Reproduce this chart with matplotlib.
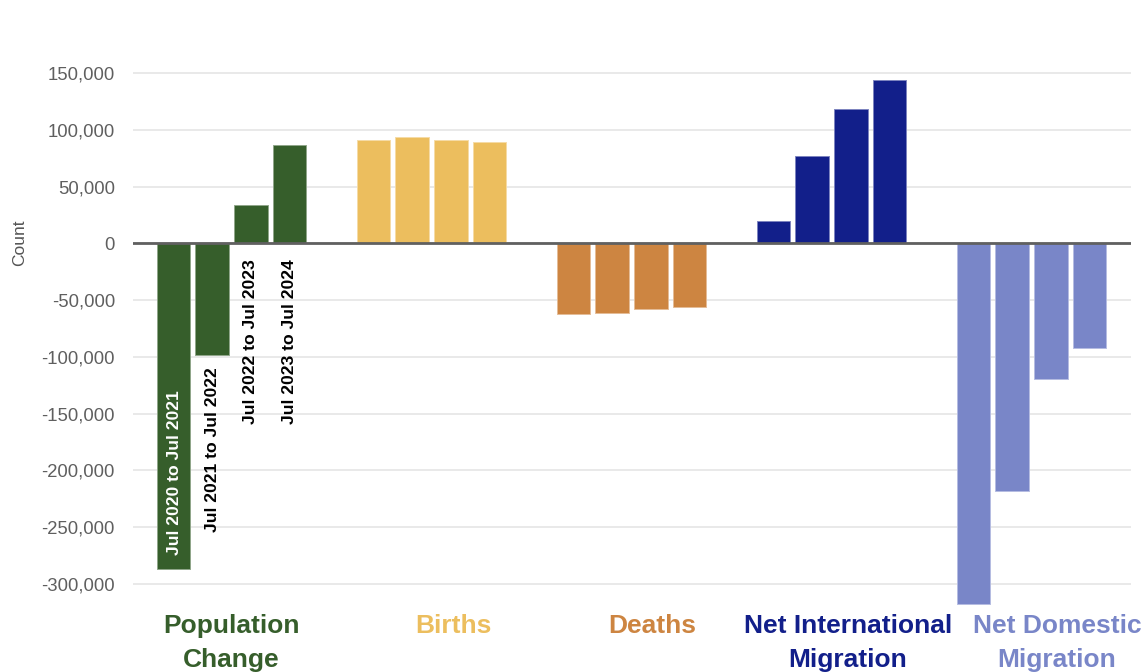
import numpy as np
import matplotlib
matplotlib.use("Agg")
import matplotlib.pyplot as plt
from matplotlib.colors import to_rgb
from matplotlib.transforms import offset_copy, blended_transform_factory

plt.rcParams['font.family'] = ['Liberation Sans', 'DejaVu Sans']

components = ["Population\nChange", "Births", "Deaths",
              "Net International\nMigration", "Net Domestic\nMigration"]
periods = ["Jul 2020 to Jul 2021", "Jul 2021 to Jul 2022",
           "Jul 2022 to Jul 2023", "Jul 2023 to Jul 2024"]
population_change = [-287000, -98000, 34000, 87000]
births = [91300, 94200, 91300, 89500]
deaths = [-62400, -61000, -58000, -55700]
net_international = [19800, 77400, 118300, 143900]
net_domestic = [-318000, -218000, -119200, -92200]
colors = ["#365e2b", "#ecbe5e", "#cd8541", "#121f8a", "#7986c8"]
yticks = [-300000, -250000, -200000, -150000, -100000, -50000, 0,
          50000, 100000, 150000]

series = [population_change, births, deaths, net_international, net_domestic]

W, H = 1147, 672
fig = plt.figure(figsize=(W / 100, H / 100), dpi=100)
ax = fig.add_axes([133 / W, (H - 606.4) / H, 998 / W, 578.4 / H])

step = 0.1935
width = 0.1675
offsets = (np.arange(4) - 1.5) * step


def lighten(c, k=0.45):
    r, g, b = to_rgb(c)
    return (r + (1 - r) * k, g + (1 - g) * k, b + (1 - b) * k)


for i, vals in enumerate(series):
    xs = i + offsets
    ax.bar(xs, vals, width=width, color=colors[i],
           edgecolor=lighten(colors[i]), linewidth=0.7, zorder=3)

# period labels under the population change bars
pc_x = 0 + offsets
for j, (x, v, lab) in enumerate(zip(pc_x, population_change, periods)):
    if j == 0:
        tr = offset_copy(ax.transData, fig=fig, x=1.5, y=14, units='dots')
        ax.text(x, v, lab, rotation=90, ha='center', va='bottom',
                color='white', fontsize=12.6, fontweight='bold',
                transform=tr, zorder=5)
    elif v < 0:
        tr = offset_copy(ax.transData, fig=fig, x=0, y=-13, units='dots')
        ax.text(x, v, lab, rotation=90, ha='center', va='top',
                color='black', fontsize=12.6, fontweight='bold',
                transform=tr, zorder=5)
    else:
        tr = offset_copy(ax.transData, fig=fig, x=0, y=-16, units='dots')
        ax.text(x, 0, lab, rotation=90, ha='center', va='top',
                color='black', fontsize=12.6, fontweight='bold',
                transform=tr, zorder=5)

ax.set_xlim(-0.4925, 4.4975)
ax.set_ylim(-320000, 190000)
ax.set_yticks(yticks)
ax.set_yticklabels([f"{t:,}" for t in yticks], fontsize=13.3, color='#5f5f5f')
ax.tick_params(axis='y', length=0, pad=13)
ax.set_xticks([])
ax.grid(axis='y', color='#e3e3e3', linewidth=1.1, zorder=0)
ax.axhline(0, color='#606060', linewidth=2.0, zorder=4)
for s in ax.spines.values():
    s.set_visible(False)

# category names below the plot, nudged right except the first
name_shift = [0, 0.1075, 0.1025, 0.0825, 0.1275]
tb = blended_transform_factory(ax.transData, fig.transFigure)
for i, name in enumerate(components):
    ax.text(i + name_shift[i], (H - 614) / H, name, ha='center', va='top',
            fontsize=19, fontweight='bold', color=colors[i], transform=tb,
            linespacing=1.5, clip_on=False)

fig.text(20 / W, (H - 243) / H, "Count", rotation=90, ha='center',
         va='center', fontsize=12.5, color='#555555')

fig.savefig("out.png", dpi=100)
